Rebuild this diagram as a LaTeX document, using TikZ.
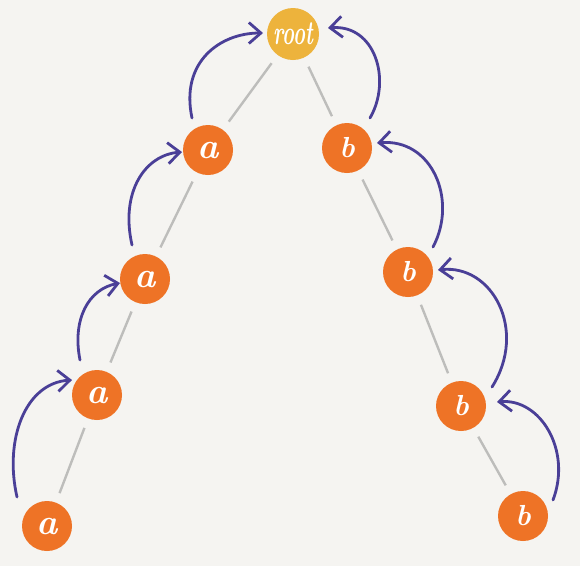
\documentclass[tikz,border=0pt]{standalone}
\usetikzlibrary{arrows.meta}
\definecolor{bg}{HTML}{F5F4F1}
\definecolor{nodeorange}{HTML}{EE7326}
\definecolor{rootyellow}{HTML}{EDB33C}
\definecolor{arrpurple}{HTML}{4A3F97}
\definecolor{edgegray}{HTML}{BDBDBB}
\begin{document}
\begin{tikzpicture}[x=1pt,y=-1pt,
  tnode/.style={circle,fill=nodeorange,minimum size=50pt,inner sep=0pt,text=white,font=\fontsize{36}{36}\selectfont\bfseries\itshape},
  bnode/.style={tnode,font=\fontsize{29}{29}\selectfont\bfseries\itshape},
  rnode/.style={circle,fill=rootyellow,minimum size=52pt,inner sep=0pt,text=white},
  edge/.style={draw=edgegray,line width=2.4pt,shorten <=10pt,shorten >=10pt},
  arr/.style={draw=arrpurple,line width=2.8pt,line cap=round,-{Straight Barb[length=12pt,width=21pt,line width=2.8pt]}}]
\fill[bg] (0,0) rectangle (580,566);
\useasboundingbox (0,0) rectangle (580,566);
\node[rnode] (root) at (293,34) {\scalebox{0.6}[1]{\fontsize{34}{34}\selectfont\bfseries\itshape root}};
\node[tnode] (a1) at (208,150) {a};
\node[tnode] (a2) at (145,279) {a};
\node[tnode] (a3) at (97,395) {a};
\node[tnode] (a4) at (47,526) {a};
\node[bnode] (b1) at (347,148) {b};
\node[bnode] (b2) at (408,272) {b};
\node[bnode] (b3) at (461,406) {b};
\node[bnode] (b4) at (523,516) {b};
% tree edges
\draw[edge] (root) -- (a1);
\draw[edge] (a1) -- (a2);
\draw[edge] (a2) -- (a3);
\draw[edge] (a3) -- (a4);
\draw[edge] (root) -- (b1);
\draw[edge] (b1) -- (b2);
\draw[edge] (b2) -- (b3);
\draw[edge] (b3) -- (b4);
% left arrows
\draw[arr] ([shift={(-30,-29)}]a4.center) .. controls (4,440) and (25,383) .. ([shift={(-25,-15)}]a3.center);
\draw[arr] ([shift={(-17,-35)}]a3.center) .. controls (72,320) and (88,289) .. ([shift={(-25,4)}]a2.center);
\draw[arr] ([shift={(-13,-34)}]a2.center) .. controls (120,192) and (145,155) .. ([shift={(-26,2)}]a1.center);
\draw[arr] ([shift={(-16,-32)}]a1.center) .. controls (180,62) and (220,33) .. ([shift={(-30,-1)}]root.center);
% right arrows
\draw[arr] ([shift={(23,-30)}]b1.center) .. controls (392,80) and (375,24) .. ([shift={(35,-6)}]root.center);
\draw[arr] ([shift={(25,-25)}]b2.center) .. controls (458,200) and (432,138) .. ([shift={(30,-5)}]b1.center);
\draw[arr] ([shift={(31,-19)}]b3.center) .. controls (528,330) and (492,264) .. ([shift={(30,-2)}]b2.center);
\draw[arr] ([shift={(30,-16)}]b4.center) .. controls (572,450) and (540,398) .. ([shift={(36,-4)}]b3.center);
\end{tikzpicture}
\end{document}
